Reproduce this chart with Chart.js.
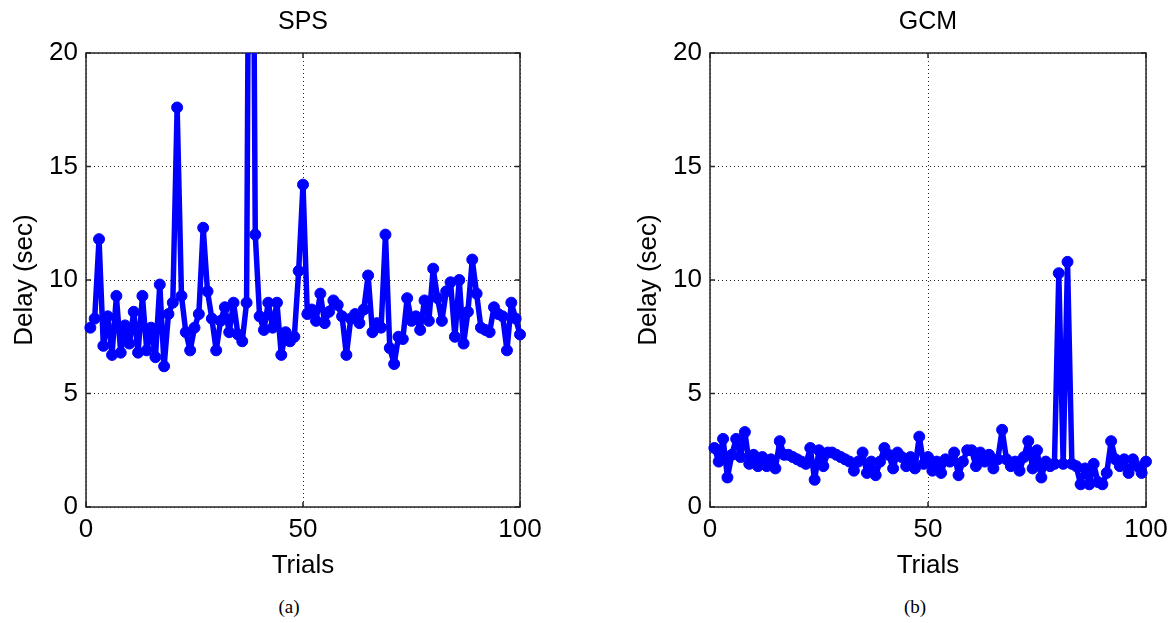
<!DOCTYPE html>
<html lang="en">
<head>
<meta charset="UTF-8">
<title>Delay per trial: SPS vs GCM</title>
<script src="https://cdn.jsdelivr.net/npm/chart.js"></script>
<style>
  body { margin: 0; background: #fff; width: 1174px; height: 623px; position: relative; overflow: hidden; }
  .box { position: absolute; top: 0; }
  .cap { position: absolute; top: 596px; width: 200px; text-align: center;
         font-family: "Liberation Serif", "Times New Roman", serif; font-size: 19px; color: #000; }
</style>
</head>
<body>
<div class="box" style="left:0"><canvas id="spsChart" width="560" height="590"></canvas></div>
<div class="box" style="left:624px"><canvas id="gcmChart" width="560" height="590"></canvas></div>
<div class="cap" style="left:189px">(a)</div>
<div class="cap" style="left:815px">(b)</div>

<script>
// delay (sec) per trial (trials 1..100)
const spsDelay = [
  7.9, 8.3, 11.8, 7.1, 8.4, 6.7, 9.3, 6.8, 8.0, 7.2,
  8.6, 6.8, 9.3, 6.9, 7.9, 6.6, 9.8, 6.2, 8.5, 9.0,
  17.6, 9.3, 7.7, 6.9, 7.9, 8.5, 12.3, 9.5, 8.3, 6.9,
  8.2, 8.8, 7.7, 9.0, 7.6, 7.3, 9.0, 45.0, 12.0, 8.4,
  7.8, 9.0, 7.9, 9.0, 6.7, 7.7, 7.3, 7.5, 10.4, 14.2,
  8.5, 8.7, 8.2, 9.4, 8.1, 8.6, 9.1, 8.9, 8.4, 6.7,
  8.3, 8.5, 8.1, 8.7, 10.2, 7.7, 8.1, 7.9, 12.0, 7.0,
  6.3, 7.5, 7.4, 9.2, 8.2, 8.4, 7.8, 9.1, 8.2, 10.5,
  9.2, 8.2, 9.5, 9.9, 7.5, 10.0, 7.2, 8.6, 10.9, 9.4,
  7.9, 7.8, 7.7, 8.8, 8.5, 8.4, 6.9, 9.0, 8.3, 7.6
];

const gcmDelay = [
  2.6, 2.0, 3.0, 1.3, 2.3, 3.0, 2.2, 3.3, 1.9, 2.3,
  1.8, 2.2, 1.8, 2.1, 1.7, 2.9, 2.3, 2.3, 2.2, 2.1,
  2.0, 1.9, 2.6, 1.2, 2.5, 1.8, 2.4, 2.4, 2.3, 2.2,
  2.1, 2.0, 1.6, 2.0, 2.4, 1.5, 2.0, 1.4, 2.0, 2.6,
  2.3, 1.7, 2.4, 2.2, 1.8, 2.2, 1.7, 3.1, 1.9, 2.2,
  1.6, 2.0, 1.5, 2.1, 2.0, 2.4, 1.4, 2.0, 2.5, 2.5,
  1.8, 2.4, 2.0, 2.3, 1.7, 2.1, 3.4, 2.1, 1.8, 2.0,
  1.6, 2.2, 2.9, 1.7, 2.5, 1.3, 2.0, 1.8, 1.9, 10.3,
  1.9, 10.8, 1.9, 1.8, 1.0, 1.7, 1.0, 1.9, 1.1, 1.0,
  1.5, 2.9, 2.1, 1.8, 2.1, 1.5, 2.1, 1.8, 1.5, 2.0
];

const xTicks = [0, 50, 100];
const yTicks = [0, 5, 10, 15, 20];

Chart.defaults.color = '#000';
Chart.defaults.font.family = '"Liberation Sans", Arial, sans-serif';

// matlab style box with inward tick marks
const framePlugin = {
  id: 'frame',
  beforeDatasetsDraw(chart) {
    const { ctx, chartArea: a, scales: { x, y } } = chart;
    ctx.save();
    ctx.strokeStyle = '#262626';
    ctx.lineWidth = 1.5;
    ctx.strokeRect(a.left, a.top, a.right - a.left, a.bottom - a.top);
    ctx.beginPath();
    xTicks.forEach(v => {
      const px = x.getPixelForValue(v);
      ctx.moveTo(px, a.bottom); ctx.lineTo(px, a.bottom - 5);
      ctx.moveTo(px, a.top); ctx.lineTo(px, a.top + 5);
    });
    yTicks.forEach(v => {
      const py = y.getPixelForValue(v);
      ctx.moveTo(a.left, py); ctx.lineTo(a.left + 5, py);
      ctx.moveTo(a.right, py); ctx.lineTo(a.right - 5, py);
    });
    ctx.stroke();
    ctx.restore();
  }
};

function makeChart(id, title, values, rightPad) {
  const ctx = document.getElementById(id).getContext('2d');
  return new Chart(ctx, {
    type: 'line',
    data: {
      datasets: [{
        data: values.map((v, i) => ({ x: i + 1, y: v })),
        borderColor: '#0000ff',
        backgroundColor: '#0000ff',
        borderWidth: 5.5,
        borderJoinStyle: 'round',
        borderCapStyle: 'round',
        pointRadius: 5.5,
        pointBorderWidth: 1,
        pointBorderColor: '#0000ff',
        pointBackgroundColor: '#0000ff',
        tension: 0,
        clip: { left: 8, top: 0, right: 8, bottom: 8 }
      }]
    },
    options: {
      responsive: false,
      animation: false,
      layout: { padding: { left: 0, right: rightPad, top: 0, bottom: 0 } },
      plugins: {
        legend: { display: false },
        tooltip: { enabled: false },
        title: {
          display: true,
          text: title,
          fullSize: false,
          color: '#000',
          font: { size: 25, weight: 'normal' },
          padding: { top: 7, bottom: 16 }
        }
      },
      scales: {
        x: {
          type: 'linear',
          min: 0, max: 100,
          afterBuildTicks: s => { s.ticks = xTicks.map(v => ({ value: v })); },
          afterFit: s => { s.height = 83; },
          ticks: { font: { size: 26 }, padding: 7, maxRotation: 0 },
          grid: { color: '#222', lineWidth: 1, drawTicks: false },
          border: { display: false, dash: [1, 3] },
          title: { display: true, text: 'Trials', font: { size: 26 }, padding: { top: 0, bottom: 9 } }
        },
        y: {
          min: 0, max: 20,
          afterBuildTicks: s => { s.ticks = yTicks.map(v => ({ value: v })); },
          afterFit: s => { s.width = 86; },
          ticks: { font: { size: 26 }, padding: 8 },
          grid: { color: '#222', lineWidth: 1, drawTicks: false },
          border: { display: false, dash: [1, 3] },
          title: { display: true, text: 'Delay (sec)', font: { size: 26 }, padding: { top: 9, bottom: 0 } }
        }
      }
    },
    plugins: [framePlugin]
  });
}

makeChart('spsChart', 'SPS', spsDelay, 40);
makeChart('gcmChart', 'GCM', gcmDelay, 38);
</script>
</body>
</html>
